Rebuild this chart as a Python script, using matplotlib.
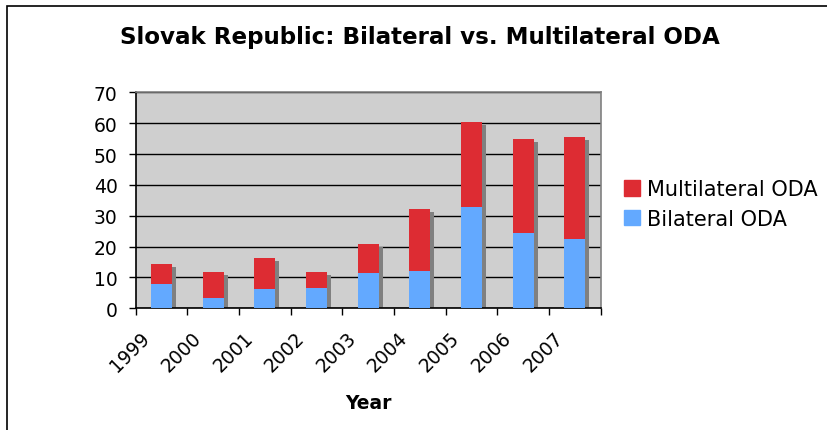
import matplotlib.pyplot as plt
import matplotlib.patches as mpatches
import matplotlib.transforms as mtransforms
import numpy as np

years = ['1999', '2000', '2001', '2002', '2003', '2004', '2005', '2006', '2007']
bilateral = [7.9, 3.4, 6.3, 6.6, 11.4, 12.1, 32.9, 24.4, 22.4]
total = [14.4, 11.8, 16.3, 11.8, 20.8, 32.1, 60.3, 54.8, 55.4]
multilateral = [t - b for t, b in zip(total, bilateral)]

red = '#DD2C33'
blue = '#63A9FF'
shadow = '#808080'

fig = plt.figure(figsize=(8.28, 4.31), dpi=100)
ax = fig.add_axes([0.1639, 0.2824, 0.5616, 0.501])
ax.set_facecolor('#CFCFCF')

x = np.arange(len(years))
w = 0.41
# drop shadow behind each stacked bar
ax.bar(x + 0.077, np.array(total) - 1.0, w, color=shadow, zorder=2)
ax.bar(x, bilateral, w, color=blue, zorder=3, label='Bilateral ODA')
ax.bar(x, multilateral, w, bottom=bilateral, color=red, zorder=3, label='Multilateral ODA')

ax.set_xlim(-0.5, len(years) - 0.5)
ax.set_ylim(0, 70)
ax.set_yticks(range(0, 71, 10))
ax.yaxis.grid(True, color='black', linewidth=1.0, zorder=1)
ax.set_axisbelow(True)

ax.set_xticks(np.arange(-0.5, len(years), 1.0))
ax.set_xticklabels([])
ax.set_xticks(x, minor=True)
ax.set_xticklabels(years, minor=True, rotation=45, ha='right', va='center',
                   rotation_mode='anchor', fontsize=13.5)
ax.tick_params(axis='x', which='minor', length=0, pad=19)
ax.tick_params(axis='x', which='major', length=5, width=1, direction='out')
ax.tick_params(axis='y', length=5, width=1, direction='out', labelsize=13.5, pad=8)
shift = mtransforms.ScaledTranslation(-15 / 100, 0, fig.dpi_scale_trans)
for lbl in ax.get_xticklabels(minor=True):
    lbl.set_transform(lbl.get_transform() + shift)

for s in ['top', 'right']:
    ax.spines[s].set_color('#808080')
    ax.spines[s].set_linewidth(1.2)
for s in ['left', 'bottom']:
    ax.spines[s].set_color('black')
    ax.spines[s].set_linewidth(1.2)

ax.set_xlabel('Year', fontsize=13.5, fontweight='bold', labelpad=13)
fig.suptitle('Slovak Republic: Bilateral vs. Multilateral ODA', x=0.507, y=0.94,
             fontsize=16.6, fontweight='bold')

handles = [mpatches.Patch(color=red), mpatches.Patch(color=blue)]
fig.legend(handles, ['Multilateral ODA', 'Bilateral ODA'], loc='center left',
           bbox_to_anchor=(0.7415, 0.524), frameon=False, fontsize=15, borderpad=0,
           handlelength=0.77, handleheight=0.77, handletextpad=0.33, labelspacing=0.45)

fig.patches.append(mpatches.Rectangle((7 / 828, -0.01), 1.02, 1 - 7 / 431 + 0.01,
                                      transform=fig.transFigure, fill=False,
                                      edgecolor='black', linewidth=1.2))

fig.savefig('out.png', dpi=100)
